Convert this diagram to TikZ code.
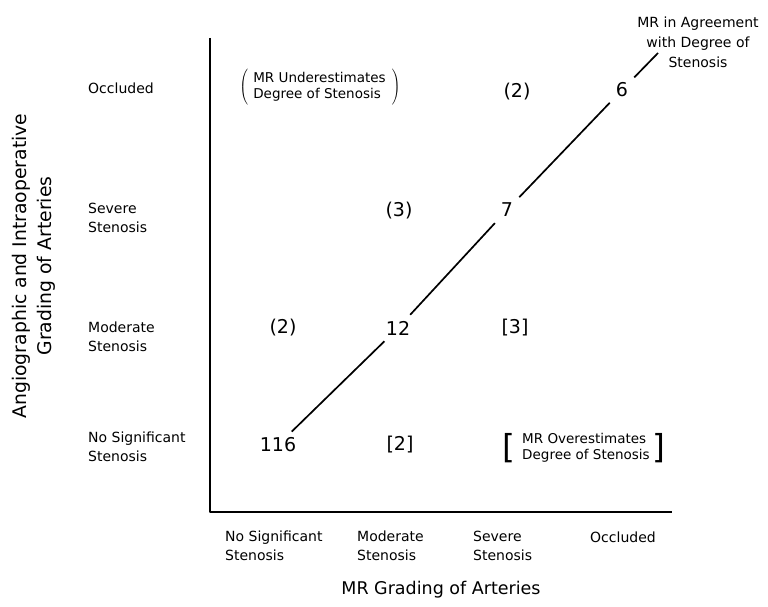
\documentclass[tikz,border=0pt]{standalone}
\usepackage{fontspec}
\setmainfont{DejaVu Sans}
\usepackage{tikz}

\newcommand{\sqbr}[1]{\raisebox{-7pt}{\fontsize{33}{33}\selectfont #1}}
\newcommand{\lpar}{$\left(\vrule height 16pt depth 16pt width 0pt\right.$}
\newcommand{\rpar}{$\left.\vrule height 16pt depth 16pt width 0pt\right)$}

\begin{document}
\begin{tikzpicture}[x=1pt,y=-1pt,join=round,
    grade/.style={font=\fontsize{14}{19}\selectfont,align=left,anchor=west,inner sep=0pt},
    count/.style={font=\fontsize{19}{23}\selectfont,inner sep=6pt},
    remark/.style={font=\fontsize{13.5}{16.5}\selectfont,inner sep=0pt},
    axtitle/.style={align=center,inner sep=0pt},
    diag/.style={line width=1.7pt}]
  \useasboundingbox (0,0) rectangle (768,607);
  % axes
  \coordinate (ytop) at (210,38);
  \coordinate (origin) at (210,512);
  \coordinate (xend) at (672,512);
  \draw[line width=1.3pt] (ytop) -- (origin) -- (xend);
  % row and column grades
  \node[grade] (rowocc) at (88,88) {Occluded};
  \node[grade] (rowsev) at (88,218) {Severe\\Stenosis};
  \node[grade] (rowmod) at (88,337) {Moderate\\Stenosis};
  \node[grade] (rownone) at (88,447) {No Significant\\Stenosis};
  \node[grade] (colnone) at (225,546) {No Significant\\Stenosis};
  \node[grade] (colmod) at (357,546) {Moderate\\Stenosis};
  \node[grade] (colsev) at (473,546) {Severe\\Stenosis};
  \node[grade] (colocc) at (590,537) {Occluded};
  \node[axtitle,rotate=90,font=\fontsize{18.8}{25}\selectfont] (ytitle) at (34,266) {Angiographic and Intraoperative\\Grading of Arteries};
  \node[axtitle,font=\fontsize{17.5}{22}\selectfont] (xtitle) at (441,590) {MR Grading of Arteries};
  % counts
  \node[count] (n116) at (278,445) {116};
  \node[count] (over2) at (400,445) {[2]};
  \node[count] (under2) at (283,328) {(2)};
  \node[count] (n12) at (398,328) {12};
  \node[count] (over3) at (515,328) {[3]};
  \node[count] (under3) at (399,211) {(3)};
  \node[count] (n7) at (507,210) {7};
  \node[count] (undertop) at (517,92) {(2)};
  \node[count] (n6) at (622,90) {6};
  % remarks
  \node[remark] (underest) at (320,88) {\lpar\hspace{4pt}\begin{tabular}{@{}l@{}}MR Underestimates\\Degree of Stenosis\end{tabular}\hspace{5pt}\rpar};
  \node[remark] (overest) at (584,448) {\sqbr{[}\hspace{7pt}\begin{tabular}{@{}l@{}}MR Overestimates\\Degree of Stenosis\end{tabular}\hspace{3pt}\sqbr{]}};
  \node[remark,align=center,font=\fontsize{14}{20}\selectfont] (agree) at (698,42) {MR in Agreement\\with Degree of\\Stenosis};
  \coordinate (agreetip) at (658,53);
  % line of agreement
  \draw[diag] (n116) -- (n12);
  \draw[diag] (n12) -- (n7);
  \draw[diag] (n7) -- (n6);
  \draw[diag] (n6) -- (agreetip);
\end{tikzpicture}
\end{document}
